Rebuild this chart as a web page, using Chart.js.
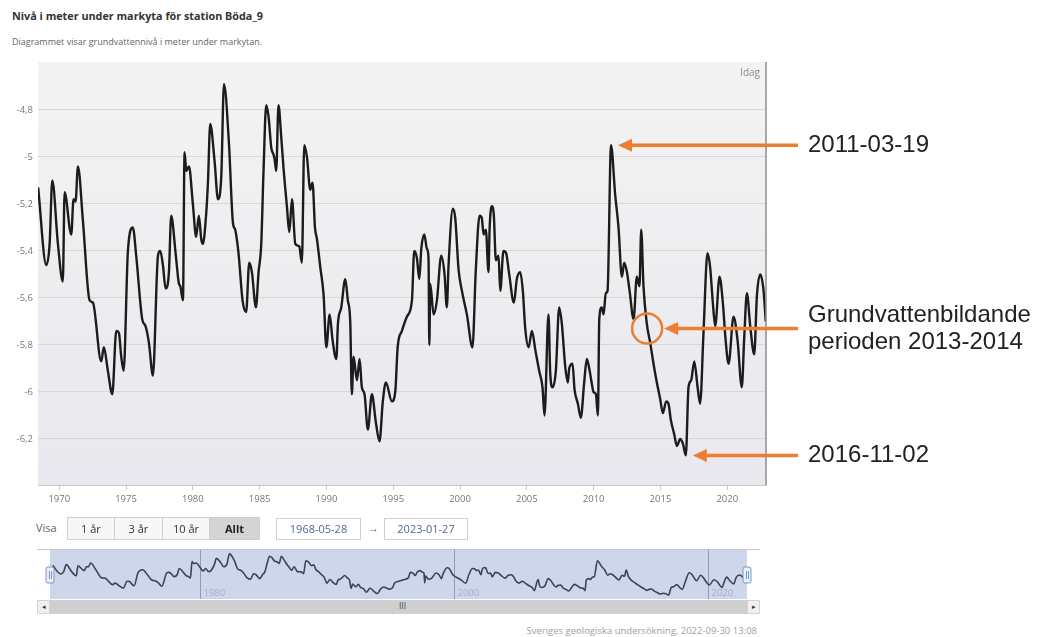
<!DOCTYPE html>
<html lang="sv">
<head>
<meta charset="utf-8">
<title>Nivå i meter under markyta för station Böda_9</title>
<script src="https://cdn.jsdelivr.net/npm/chart.js@4.4.1/dist/chart.umd.min.js"></script>
<style>
  body { margin: 0; background: #fff; font-family: 'Open Sans', sans-serif; }
  #page { position: relative; width: 1042px; height: 637px; overflow: hidden; }
  .abs { position: absolute; }
  #titel { left: 12px; top: 8px; font-size: 10.8px; font-weight: 700; color: #333; white-space: nowrap; }
  #undertitel { left: 12px; top: 35px; font-size: 9px; color: #666; white-space: nowrap; }
  #visa { left: 36px; top: 520px; font-size: 11px; color: #666; }
  #knappar { left: 67px; top: 517px; height: 23px; display: flex; border: 1px solid #cfcfcf; box-sizing: border-box; }
  #knappar div { height: 21px; line-height: 21px; text-align: center; font-size: 11px; color: #333; background: #f7f7f7; border-right: 1px solid #cfcfcf; }
  #knappar div:last-child { border-right: none; background: #d4d4d4; font-weight: 700; color: #222; }
  .datum { top: 518px; height: 22px; line-height: 20px; box-sizing: border-box; border: 1px solid #d0d0d0; text-align: center; font-size: 11px; color: #4d6794; background: #fff; }
  #pil { left: 368px; top: 520px; font-size: 11px; color: #666; }
  #navlinje { left: 37px; top: 549px; width: 723px; height: 1px; background: #c4c4c4; }
  #scroll { left: 50px; top: 600px; width: 697px; height: 14px; background: #cfcfcf; }
  .sknapp { top: 600px; width: 13px; height: 14px; box-sizing: border-box; background: #f0f0f0; border: 1px solid #d4d4d4; font-size: 7px; line-height: 12px; text-align: center; color: #333; }
  #grepp { left: 399px; top: 600px; font-size: 8px; line-height: 14px; color: #555; font-family: 'DejaVu Sans', sans-serif; }
  #kalla { right: 285px; top: 624px; font-size: 9.5px; color: #a0a0a0; white-space: nowrap; }
</style>
</head>
<body>
<div id="page">
  <div id="titel" class="abs">Nivå i meter under markyta för station Böda_9</div>
  <div id="undertitel" class="abs">Diagrammet visar grundvattennivå i meter under markytan.</div>

  <canvas id="huvud" class="abs" style="left:0;top:0" width="1042" height="520"></canvas>

  <div id="visa" class="abs">Visa</div>
  <div id="knappar" class="abs">
    <div style="width:46px">1 år</div>
    <div style="width:47px">3 år</div>
    <div style="width:46px">10 år</div>
    <div style="width:49px">Allt</div>
  </div>
  <div class="abs datum" style="left:276px;width:85px">1968-05-28</div>
  <div id="pil" class="abs">→</div>
  <div class="abs datum" style="left:384px;width:84px">2023-01-27</div>

  <div id="navlinje" class="abs"></div>
  <canvas id="nav" class="abs" style="left:0;top:550px" width="800" height="49"></canvas>
  <div id="scroll" class="abs"></div>
  <div class="abs sknapp" style="left:37px">◂</div>
  <div class="abs sknapp" style="left:747px">▸</div>
  <div id="grepp" class="abs">III</div>

  <div id="kalla" class="abs">Sveriges geologiska undersökning, 2022-09-30 13:08</div>
</div>

<script>
// grundvattennivå (m under markyta)
const years = [
  1968.42, 1969.03, 1969.28, 1969.48, 1969.90, 1970.27, 1970.40, 1970.90, 1971.07, 1971.22,
  1971.40, 1971.77, 1972.27, 1972.52, 1973.14, 1973.34, 1973.64, 1973.97, 1974.27, 1974.47,
  1974.64, 1974.82, 1975.14, 1975.51, 1975.76, 1976.21, 1976.46, 1976.71, 1977.01, 1977.39,
  1977.56, 1977.76, 1977.96, 1978.21, 1978.38, 1978.71, 1978.96, 1979.06, 1979.26, 1979.38,
  1979.51, 1979.71, 1980.00, 1980.25, 1980.45, 1980.63, 1980.75, 1981.00, 1981.13, 1981.30,
  1981.63, 1981.88, 1982.13, 1982.33, 1982.70, 1983.00, 1983.17, 1983.42, 1983.72, 1983.99,
  1984.22, 1984.42, 1984.72, 1984.92, 1985.12, 1985.29, 1985.49, 1985.67, 1985.87, 1986.04,
  1986.12, 1986.24, 1986.41, 1986.61, 1986.79, 1987.04, 1987.22, 1987.42, 1987.67, 1987.96,
  1988.16, 1988.34, 1988.54, 1988.79, 1988.96, 1989.14, 1989.29, 1989.54, 1989.79, 1989.99,
  1990.24, 1990.46, 1990.74, 1990.86, 1991.11, 1991.41, 1991.60, 1991.78, 1991.90, 1992.03,
  1992.28, 1992.48, 1992.65, 1992.85, 1993.10, 1993.40, 1993.70, 1993.97, 1994.22, 1994.45,
  1994.90, 1995.15, 1995.33, 1995.65, 1996.02, 1996.40, 1996.57, 1996.77, 1996.95, 1997.10,
  1997.32, 1997.52, 1997.64, 1997.70, 1997.77, 1998.02, 1998.27, 1998.59, 1998.84, 1999.01,
  1999.14, 1999.46, 1999.64, 1999.89, 2000.14, 2000.51, 2000.93, 2001.18, 2001.46, 2001.63,
  2001.76, 2001.93, 2002.13, 2002.21, 2002.38, 2002.53, 2002.68, 2002.88, 2003.01, 2003.25,
  2003.45, 2003.68, 2004.03, 2004.25, 2004.50, 2004.70, 2004.88, 2005.13, 2005.38, 2005.63,
  2005.92, 2006.17, 2006.32, 2006.62, 2006.75, 2006.92, 2007.17, 2007.42, 2007.62, 2007.87,
  2008.07, 2008.17, 2008.42, 2008.57, 2008.82, 2009.04, 2009.29, 2009.49, 2009.67, 2009.82,
  2009.99, 2010.17, 2010.32, 2010.42, 2010.61, 2010.74, 2010.91, 2011.04, 2011.30, 2011.61,
  2011.86, 2012.11, 2012.29, 2012.49, 2012.69, 2012.99, 2013.23, 2013.43, 2013.56, 2013.73,
  2013.98, 2014.23, 2014.48, 2014.73, 2014.98, 2015.18, 2015.43, 2015.60, 2015.78, 2016.03,
  2016.23, 2016.48, 2016.68, 2016.90, 2017.10, 2017.30, 2017.53, 2017.78, 2017.97, 2018.22,
  2018.52, 2018.72, 2018.92, 2019.10, 2019.42, 2019.67, 2019.85, 2020.10, 2020.47, 2020.77,
  2021.09, 2021.27, 2021.47, 2021.72, 2022.02, 2022.22, 2022.47, 2022.72, 2022.88
];
const levels = [
  -5.13, -5.46, -5.37, -5.10, -5.37, -5.53, -5.15, -5.33, -5.18, -5.19,
  -5.04, -5.27, -5.61, -5.62, -5.87, -5.81, -5.91, -6.01, -5.74, -5.75,
  -5.85, -5.91, -5.40, -5.30, -5.42, -5.69, -5.72, -5.79, -5.93, -5.42,
  -5.40, -5.46, -5.56, -5.49, -5.25, -5.41, -5.54, -5.55, -5.61, -4.98,
  -5.06, -5.04, -5.20, -5.34, -5.25, -5.35, -5.37, -5.24, -5.11, -4.86,
  -5.02, -5.18, -5.08, -4.69, -4.94, -5.28, -5.31, -5.41, -5.61, -5.66,
  -5.45, -5.49, -5.64, -5.49, -5.37, -5.06, -4.78, -4.83, -4.96, -4.99,
  -5.01, -5.06, -4.78, -4.91, -5.05, -5.21, -5.32, -5.18, -5.37, -5.38,
  -5.45, -4.95, -5.00, -5.14, -5.11, -5.30, -5.35, -5.47, -5.59, -5.81,
  -5.67, -5.78, -5.86, -5.71, -5.64, -5.52, -5.61, -5.70, -6.01, -5.85,
  -5.95, -5.86, -5.98, -6.01, -6.16, -6.01, -6.13, -6.21, -6.04, -5.96,
  -6.04, -6.00, -5.81, -5.74, -5.68, -5.61, -5.40, -5.43, -5.52, -5.39,
  -5.33, -5.39, -5.43, -5.80, -5.54, -5.67, -5.61, -5.42, -5.50, -5.64,
  -5.46, -5.22, -5.26, -5.48, -5.57, -5.67, -5.81, -5.48, -5.25, -5.26,
  -5.33, -5.31, -5.49, -5.31, -5.21, -5.25, -5.44, -5.42, -5.57, -5.40,
  -5.41, -5.50, -5.62, -5.52, -5.49, -5.57, -5.73, -5.81, -5.74, -5.82,
  -5.91, -5.98, -6.10, -5.67, -5.92, -5.98, -5.91, -5.64, -5.71, -5.89,
  -5.96, -5.90, -5.88, -5.99, -6.05, -6.11, -5.96, -5.86, -5.90, -5.95,
  -6.00, -6.01, -6.10, -5.69, -5.64, -5.67, -5.58, -5.57, -4.95, -5.16,
  -5.30, -5.51, -5.45, -5.49, -5.57, -5.69, -5.51, -5.55, -5.31, -5.55,
  -5.71, -5.79, -5.88, -5.96, -6.03, -6.09, -6.04, -6.05, -6.12, -6.18,
  -6.23, -6.20, -6.22, -6.27, -5.98, -5.95, -5.87, -5.98, -6.05, -5.75,
  -5.41, -5.47, -5.62, -5.72, -5.51, -5.62, -5.76, -5.88, -5.68, -5.78,
  -5.98, -5.77, -5.58, -5.72, -5.84, -5.59, -5.50, -5.57, -5.70
];

const yTicks = [-6.2, -6, -5.8, -5.6, -5.4, -5.2, -5, -4.8];
const xTicks = [1970, 1975, 1980, 1985, 1990, 1995, 2000, 2005, 2010, 2015, 2020];
const navTicks = [1980, 2000, 2020];

// pilar + texter till höger
const noteYears = [2011.30, 2014.0, 2016.90];
const noteLevels = [-4.95, -5.73, -6.27];
const noteCircle = [false, true, false];
const noteTexts = [['2011-03-19'], ['Grundvattenbildande', 'perioden 2013-2014'], ['2016-11-02']];

const points = years.map((x, i) => ({ x: x, y: levels[i] }));

const plotBg = {
  id: 'plotBg',
  beforeDraw(chart) {
    const { ctx, chartArea: a } = chart;
    const g = ctx.createLinearGradient(0, a.top, 0, a.bottom);
    g.addColorStop(0, '#f3f3f3');
    g.addColorStop(1, '#e8e8ee');
    ctx.save();
    ctx.fillStyle = g;
    ctx.fillRect(a.left, a.top, a.right - a.left, a.bottom - a.top);
    ctx.restore();
  }
};

const idag = {
  id: 'idag',
  afterDatasetsDraw(chart) {
    const { ctx, chartArea: a } = chart;
    ctx.save();
    ctx.strokeStyle = '#8c8c8c';
    ctx.lineWidth = 1.5;
    ctx.beginPath();
    ctx.moveTo(a.right, a.top);
    ctx.lineTo(a.right, a.bottom);
    ctx.stroke();
    ctx.fillStyle = '#8a8a8a';
    ctx.font = "10px 'Open Sans'";
    ctx.textAlign = 'right';
    ctx.textBaseline = 'middle';
    ctx.fillText('Idag', a.right - 6, a.top + 11);
    ctx.restore();
  }
};

const notes = {
  id: 'notes',
  afterDraw(chart) {
    const { ctx, scales: { x, y } } = chart;
    const orange = '#ed7d31';
    ctx.save();
    noteYears.forEach((yr, i) => {
      const px = x.getPixelForValue(yr);
      const py = y.getPixelForValue(noteLevels[i]);
      let tip = px + 7;
      ctx.strokeStyle = orange;
      ctx.fillStyle = orange;
      if (noteCircle[i]) {
        ctx.lineWidth = 2.5;
        ctx.beginPath();
        ctx.arc(px, py, 15, 0, Math.PI * 2);
        ctx.stroke();
        tip = px + 17;
      }
      ctx.lineWidth = 3.5;
      ctx.beginPath();
      ctx.moveTo(tip + 10, py);
      ctx.lineTo(798, py);
      ctx.stroke();
      ctx.beginPath();
      ctx.moveTo(tip, py);
      ctx.lineTo(tip + 14, py - 6.5);
      ctx.lineTo(tip + 14, py + 6.5);
      ctx.closePath();
      ctx.fill();

      ctx.fillStyle = '#222';
      ctx.font = "24px 'Liberation Sans', Arial, sans-serif";
      ctx.textAlign = 'left';
      ctx.textBaseline = 'middle';
      const lines = noteTexts[i];
      lines.forEach((t, j) => {
        ctx.fillText(t, 808, py + (j - (lines.length - 1) / 2) * 27);
      });
    });
    ctx.restore();
  }
};

new Chart(document.getElementById('huvud'), {
  type: 'line',
  data: {
    datasets: [{
      data: points,
      borderColor: '#1c1c1c',
      borderWidth: 2.4,
      pointRadius: 0,
      cubicInterpolationMode: 'monotone'
    }]
  },
  options: {
    responsive: false,
    animation: false,
    layout: { padding: { top: 62, left: 0, right: 276, bottom: 0 } },
    plugins: { legend: { display: false }, tooltip: { enabled: false } },
    scales: {
      x: {
        type: 'linear',
        min: 1968.41,
        max: 2022.9,
        afterBuildTicks: s => { s.ticks = xTicks.map(v => ({ value: v })); },
        afterFit: s => { s.height = 35; },
        grid: { drawOnChartArea: false, tickLength: 5, color: '#c8c8c8' },
        border: { color: '#c8c8c8' },
        ticks: { color: '#777', padding: 4, font: { family: 'Open Sans', size: 9.5 }, callback: v => String(v), maxRotation: 0 }
      },
      y: {
        min: -6.396,
        max: -4.596,
        afterBuildTicks: s => { s.ticks = yTicks.map(v => ({ value: v })); },
        afterFit: s => { s.width = 38; },
        grid: { color: '#d8d8d8', drawTicks: false },
        border: { display: false },
        ticks: { color: '#777', padding: 5, font: { family: 'Open Sans', size: 9.5 }, callback: v => String(v).replace('.', ',') }
      }
    }
  },
  plugins: [plotBg, idag, notes]
});

// navigator nedanför
const navBg = {
  id: 'navBg',
  beforeDraw(chart) {
    const { ctx, chartArea: a, scales: { x } } = chart;
    ctx.save();
    ctx.fillStyle = '#cdd6ea';
    ctx.fillRect(a.left, a.top, a.right - a.left, a.bottom - a.top);
    ctx.strokeStyle = '#8e9bb8';
    ctx.lineWidth = 1;
    ctx.fillStyle = '#a3afca';
    ctx.font = "9.5px 'Open Sans'";
    ctx.textBaseline = 'middle';
    navTicks.forEach(t => {
      const px = Math.round(x.getPixelForValue(t)) + 0.5;
      ctx.beginPath();
      ctx.moveTo(px, a.top);
      ctx.lineTo(px, a.bottom);
      ctx.stroke();
      ctx.fillText(String(t), px + 3, a.bottom - 6);
    });
    ctx.restore();
  },
  afterDraw(chart) {
    const { ctx, chartArea: a } = chart;
    ctx.save();
    ctx.fillStyle = '#e8eef8';
    ctx.strokeStyle = '#7f98c6';
    ctx.lineWidth = 1;
    [a.left, a.right].forEach(hx => {
      ctx.beginPath();
      ctx.roundRect(hx - 4, 17, 8, 16, 2);
      ctx.fill();
      ctx.stroke();
      ctx.beginPath();
      ctx.moveTo(hx - 0.5, 21);
      ctx.lineTo(hx - 0.5, 29);
      ctx.moveTo(hx + 1.5, 21);
      ctx.lineTo(hx + 1.5, 29);
      ctx.stroke();
    });
    ctx.restore();
  }
};

new Chart(document.getElementById('nav'), {
  type: 'line',
  data: {
    datasets: [{
      data: points,
      borderColor: '#3d4354',
      borderWidth: 1.6,
      pointRadius: 0,
      cubicInterpolationMode: 'monotone'
    }]
  },
  options: {
    responsive: false,
    animation: false,
    layout: { padding: { top: 0, left: 50, right: 53, bottom: 0 } },
    plugins: { legend: { display: false }, tooltip: { enabled: false } },
    scales: {
      x: { type: 'linear', min: 1968.2, max: 2023.07, display: false },
      y: { min: -6.42, max: -4.54, display: false }
    }
  },
  plugins: [navBg]
});
</script>
</body>
</html>
